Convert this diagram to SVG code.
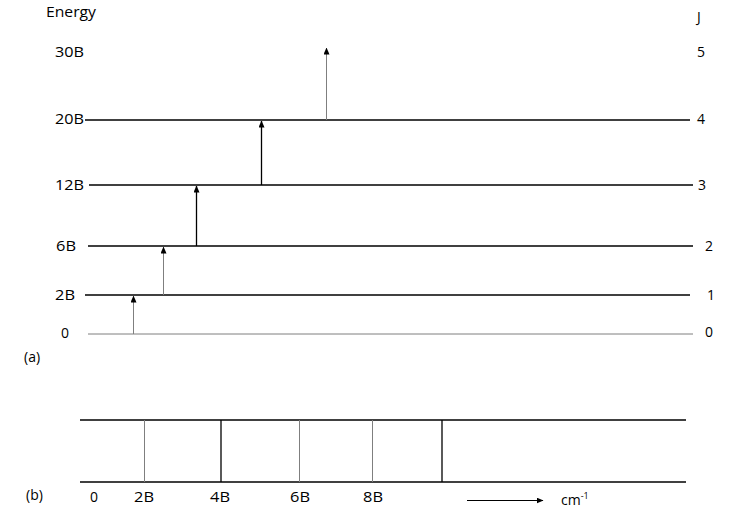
<svg xmlns="http://www.w3.org/2000/svg" width="739" height="517" viewBox="0 0 739 517">
<style>
text{font-family:"Open Sans","DejaVu Sans",sans-serif;font-size:14px;fill:#000}
.lv{stroke:#000;stroke-width:1.3}
.g{stroke:#7f7f7f;stroke-width:1}
.k{stroke:#000;stroke-width:1.3}
</style>
<defs>
<marker id="ah" viewBox="0 0 7 6" refX="6.5" refY="3" markerWidth="7" markerHeight="6" markerUnits="userSpaceOnUse" orient="auto">
<path d="M0,0 L7,3 L0,6 Z" fill="#000"/>
</marker>
<marker id="ar" viewBox="0 0 7 6" refX="6.5" refY="3" markerWidth="7" markerHeight="6" markerUnits="userSpaceOnUse" orient="auto">
<path d="M0,0 L7,3 L0,6 Z" fill="#000"/>
</marker>
</defs>
<rect width="739" height="517" fill="#fff"/>
<g id="levels">
<g id="level-30B"><text x="55" y="57" textLength="29" lengthAdjust="spacingAndGlyphs">30B</text><text x="697" y="57">5</text></g>
<g id="level-20B"><line class="lv" x1="85" y1="120" x2="690" y2="120"/><text x="55" y="124" textLength="29" lengthAdjust="spacingAndGlyphs">20B</text><text x="697" y="124">4</text></g>
<g id="level-12B"><line class="lv" x1="89" y1="185" x2="693" y2="185"/><text x="55" y="190" textLength="29" lengthAdjust="spacingAndGlyphs">12B</text><text x="698" y="190">3</text></g>
<g id="level-6B"><line class="lv" x1="88" y1="246" x2="693" y2="246"/><text x="56" y="251" textLength="20" lengthAdjust="spacingAndGlyphs">6B</text><text x="705" y="251">2</text></g>
<g id="level-2B"><line class="lv" x1="85" y1="295" x2="690" y2="295"/><text x="55" y="300" textLength="20" lengthAdjust="spacingAndGlyphs">2B</text><text x="707" y="300">1</text></g>
<g id="level-0"><line class="g" x1="88" y1="334" x2="693" y2="334"/><text x="61" y="338">0</text><text x="705" y="337">0</text></g>
</g>
<g id="labels">
<text x="46" y="17" textLength="50" lengthAdjust="spacingAndGlyphs">Energy</text>
<text x="697" y="22" font-size="11">J</text>
<text x="24" y="362">(a)</text>
<text x="26" y="500">(b)</text>
</g>
<g id="connectors">
<line class="g" x1="133.5" y1="334" x2="133.5" y2="296" marker-end="url(#ah)"/>
<line class="g" x1="163.5" y1="295" x2="163.5" y2="247" marker-end="url(#ah)"/>
<line class="k" x1="196.5" y1="246" x2="196.5" y2="186" marker-end="url(#ah)"/>
<line class="k" x1="261.5" y1="185" x2="261.5" y2="121" marker-end="url(#ah)"/>
<line class="g" x1="326.5" y1="120" x2="326.5" y2="48" marker-end="url(#ah)"/>
</g>
<g id="spectrum">
<line class="lv" x1="80" y1="420" x2="686" y2="420"/>
<line class="lv" x1="80" y1="482" x2="686" y2="482"/>
<line class="g" x1="144.5" y1="420" x2="144.5" y2="482"/>
<line class="k" x1="221" y1="420" x2="221" y2="482"/>
<line class="g" x1="299.5" y1="420" x2="299.5" y2="482"/>
<line class="g" x1="372.5" y1="420" x2="372.5" y2="482"/>
<line class="k" x1="442" y1="420" x2="442" y2="482"/>
<text x="90" y="502">0</text>
<text x="134" y="502" textLength="20" lengthAdjust="spacingAndGlyphs">2B</text>
<text x="210" y="502" textLength="20" lengthAdjust="spacingAndGlyphs">4B</text>
<text x="290" y="502" textLength="20" lengthAdjust="spacingAndGlyphs">6B</text>
<text x="363" y="502" textLength="20" lengthAdjust="spacingAndGlyphs">8B</text>
<line x1="467" y1="500.5" x2="543" y2="500.5" stroke="#000" stroke-width="1" marker-end="url(#ar)"/>
<text x="561" y="505">cm<tspan font-size="9" dy="-6">-1</tspan></text>
</g>
</svg>
